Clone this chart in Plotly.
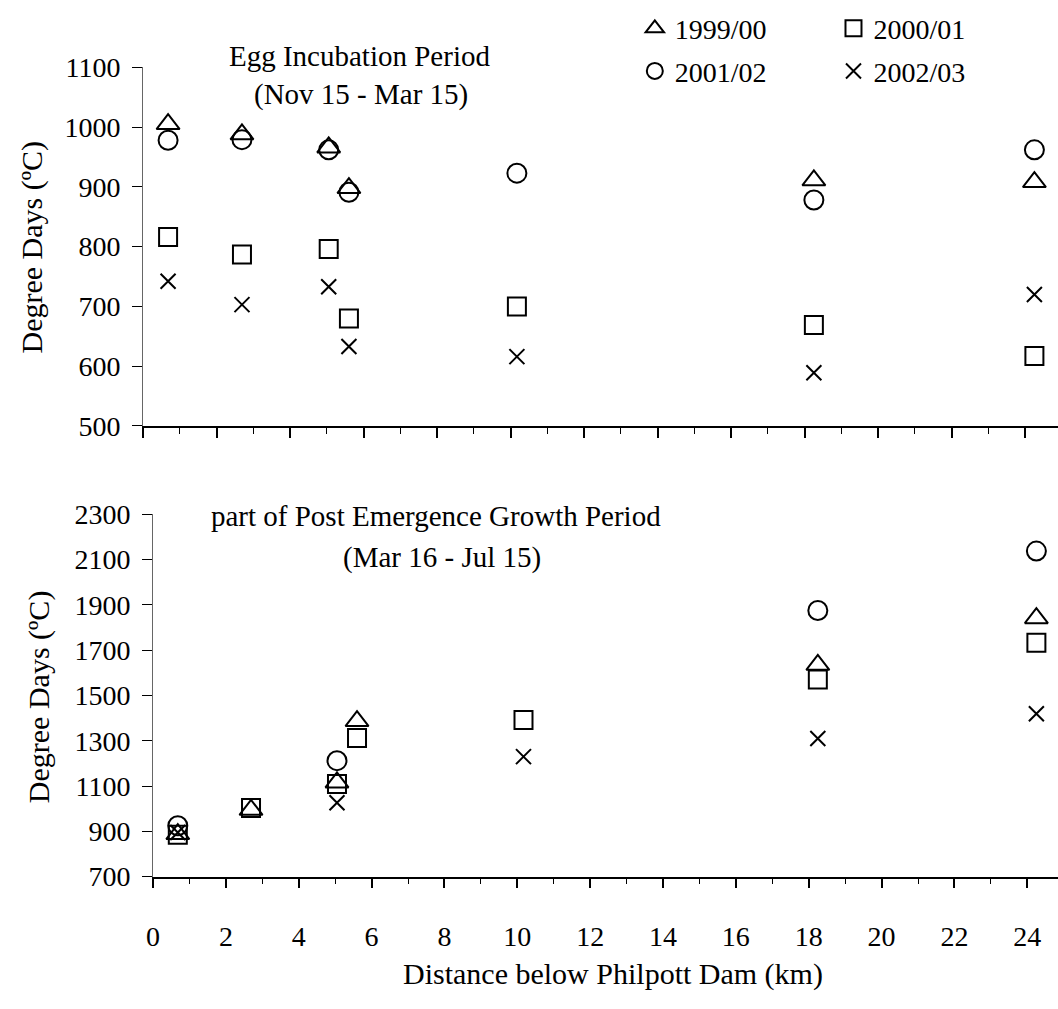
import plotly.graph_objects as go

# Distance below Philpott Dam (km) for each sampling site
dist_egg = [0.68, 2.69, 5.05, 5.60, 10.17, 18.25, 24.25]
dist_growth = [0.68, 2.69, 5.05, 5.60, 10.17, 18.25, 24.25]

# Egg incubation period (Nov 15 - Mar 15), degree days (°C)
egg_1999 = [1005, 988, 966, 898, None, 911, 908]
egg_2000 = [816, 787, 796, 680, 700, 669, 617]
egg_2001 = [978, 979, 962, 891, 923, 878, 962]
egg_2002 = [742, 703, 733, 633, 616, 589, 720]

# Part of post emergence growth period (Mar 16 - Jul 15), degree days (°C)
grow_1999 = [888, 995, 1116, 1387, None, 1635, 1841]
grow_2000 = [885, 1003, 1109, 1312, 1392, 1570, 1732]
grow_2001 = [925, None, 1212, None, None, 1875, 2137]
grow_2002 = [895, None, 1026, None, 1230, 1310, 1419]

season_labels = ["1999/00", "2000/01", "2001/02", "2002/03"]
symbols = ["triangle-up-open", "square-open", "circle-open", "x-thin-open"]
sizes = [20, 18, 19, 15]
legend_ids = ["legend", "legend2", "legend3", "legend4"]

W, H = 1058, 1009
FONT = "Liberation Serif, Times New Roman, serif"


def px(x):
    return x / W


def py(y):
    return 1 - y / H


fig = go.Figure()

egg_series = [egg_1999, egg_2000, egg_2001, egg_2002]
grow_series = [grow_1999, grow_2000, grow_2001, grow_2002]

for i, label in enumerate(season_labels):
    marker = dict(symbol=symbols[i], size=sizes[i], color="black",
                  line=dict(color="black", width=2))
    fig.add_trace(go.Scatter(
        x=dist_egg, y=egg_series[i], mode="markers", name=label,
        marker=marker, xaxis="x", yaxis="y", legend=legend_ids[i],
        showlegend=True, cliponaxis=False))
    fig.add_trace(go.Scatter(
        x=dist_growth, y=grow_series[i], mode="markers", name=label,
        marker=marker, xaxis="x2", yaxis="y2", showlegend=False,
        cliponaxis=False))

axis_common = dict(
    showgrid=False, zeroline=False, showline=True,
    ticks="outside", tickcolor="black",
    tickfont=dict(family=FONT, size=28, color="black"),
)

top_left, bot_left = 137, 147
fig.update_layout(
    width=W, height=H,
    margin=dict(l=0, r=0, t=0, b=0),
    paper_bgcolor="white", plot_bgcolor="white",
    font=dict(family=FONT, size=28, color="black"),
    xaxis=dict(domain=[px(top_left), 1.0], range=[0, (W - top_left) / 37.0],
               anchor="y", tick0=0, dtick=2, ticklen=10, tickwidth=1.5,
               showticklabels=False, linecolor="black", linewidth=1.5,
               minor=dict(dtick=1, ticks="outside", ticklen=6,
                          tickcolor="black", tickwidth=1.2),
               **axis_common),
    yaxis=dict(domain=[py(424), py(54)], range=[500, 1100], anchor="x",
               tick0=500, dtick=100, ticklen=10, tickwidth=1.2,
               linecolor="#666", linewidth=1, ticklabelstandoff=6,
               **axis_common),
    xaxis2=dict(domain=[px(bot_left), 1.0],
                range=[0, (W - bot_left) / 36.67], anchor="y2",
                tick0=0, dtick=2, ticklen=10, tickwidth=1.5,
                linecolor="black", linewidth=1.5, ticklabelstandoff=24,
                minor=dict(dtick=1, ticks="outside", ticklen=6,
                           tickcolor="black", tickwidth=1.2),
                **axis_common),
    yaxis2=dict(domain=[py(889), py(515)], range=[700, 2300], anchor="x2",
                tick0=700, dtick=200, ticklen=10, tickwidth=1.2,
                linecolor="#666", linewidth=1, ticklabelstandoff=6,
                **axis_common),
)

# One legend box per season so that the entries sit in a 2 x 2 grid
legend_pos = [(652, 14), (852, 14), (652, 58), (852, 58)]
for lid, (lx, ly) in zip(legend_ids, legend_pos):
    fig.update_layout({lid: dict(
        x=px(lx - 20), y=py(ly), xanchor="left", yanchor="middle",
        bgcolor="rgba(0,0,0,0)", borderwidth=0,
        font=dict(family=FONT, size=28, color="black"),
        itemclick=False, itemdoubleclick=False)})

annotations = [
    ("Egg Incubation Period", 355, 42, 0, 29),
    ("(Nov 15 - Mar 15)", 356, 82, 0, 29),
    ("part of Post Emergence Growth Period", 432, 517, 0, 29),
    ("(Mar 16 - Jul 15)", 438, 560, 0, 29),
    ("Degree Days (ºC)", 25, 239, -90, 30),
    ("Degree Days (ºC)", 33, 703, -90, 30),
    ("Distance below Philpott Dam (km)", 610, 989, 0, 30),
]
for text, ax, ay, ang, fs in annotations:
    fig.add_annotation(text=text, x=px(ax), y=py(ay), xref="paper",
                       yref="paper", showarrow=False, textangle=ang,
                       xanchor="center", yanchor="middle",
                       font=dict(family=FONT, size=fs, color="black"))

fig.write_html("out.html")
